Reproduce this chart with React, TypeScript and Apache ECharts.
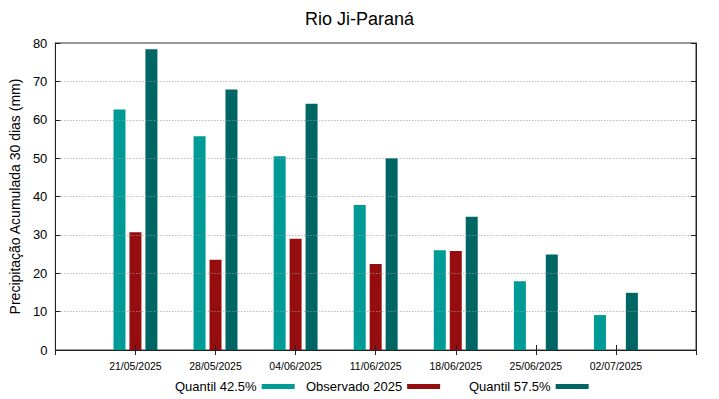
import React, { useEffect, useRef } from "react";
import * as echarts from "echarts";

const titleText = "Rio Ji-Paraná";
const yAxisName = "Precipitação Acumulada 30 dias (mm)";
const dates = ["21/05/2025", "28/05/2025", "04/06/2025", "11/06/2025", "18/06/2025", "25/06/2025", "02/07/2025"];
const seriesNames = ["Quantil 42.5%", "Observado 2025", "Quantil 57.5%"];
const quantil425 = [62.7, 55.7, 50.5, 37.8, 26.0, 17.9, 9.1];
const observado2025: (number | null)[] = [30.7, 23.5, 29.0, 22.4, 25.8, null, null];
const quantil575 = [78.4, 67.9, 64.2, 50.0, 34.7, 24.9, 14.9];
const yTicks = { min: 0, max: 80, interval: 10 };

const colors = ["#009a97", "#960d0f", "#006664"];
const FONT = "Liberation Sans, Arial, sans-serif";

export default function App() {
  const ref = useRef<HTMLDivElement>(null);
  useEffect(() => {
    if (!ref.current) return;
    const chart = echarts.init(ref.current, null, { renderer: "svg" });
    const cats = ["", ...dates, ""];
    const pad = (a: (number | null)[]) => [null, ...a, null];
    const seriesData = [quantil425, observado2025, quantil575];
    const legendLefts = [175, 306, 469];
    const frameAxisLine = { show: true, lineStyle: { color: "#222", width: 1 } };
    const frameTick = { show: true, inside: true, length: 5, lineStyle: { color: "#222" } };
    chart.setOption({
      animation: false,
      textStyle: { fontFamily: FONT },
      title: {
        text: titleText,
        left: "center",
        top: 5,
        textStyle: { fontSize: 18, fontWeight: "normal", color: "#000", fontFamily: FONT },
      },
      legend: seriesNames.map((n, i) => ({
        data: [n],
        left: legendLefts[i],
        top: 380,
        padding: 0,
        align: "right",
        icon: "rect",
        itemWidth: 33,
        itemHeight: 5,
        textStyle: { fontSize: 13, color: "#000", fontFamily: FONT },
        selectedMode: false,
      })),
      grid: {
        left: 52,
        right: 23,
        top: 43,
        bottom: 49,
        containLabel: false,
        show: true,
        borderColor: "#333",
        borderWidth: 1,
        backgroundColor: "transparent",
      },
      xAxis: [
        {
          type: "category",
          data: cats,
          boundaryGap: false,
          position: "bottom",
          z: 5,
          axisLine: frameAxisLine,
          axisTick: frameTick,
          axisLabel: { fontSize: 10.5, color: "#000", margin: 10, interval: 0 },
          splitLine: { show: false },
        },
        {
          type: "category",
          data: cats,
          boundaryGap: false,
          position: "top",
          z: 5,
          axisLine: frameAxisLine,
          axisTick: frameTick,
          axisLabel: { show: false },
          splitLine: { show: false },
        },
      ],
      yAxis: [
        {
          type: "value",
          min: yTicks.min,
          max: yTicks.max,
          interval: yTicks.interval,
          position: "left",
          z: 4,
          name: yAxisName,
          nameLocation: "middle",
          nameGap: 30,
          nameTextStyle: { fontSize: 14, color: "#000", fontFamily: FONT },
          axisLine: frameAxisLine,
          axisTick: frameTick,
          axisLabel: { fontSize: 13, color: "#000", margin: 8 },
          splitLine: {
            show: true,
            showMinLine: false,
            showMaxLine: false,
            lineStyle: { type: [1, 2], color: "#999", width: 1 },
          },
        },
        {
          type: "value",
          min: yTicks.min,
          max: yTicks.max,
          interval: yTicks.interval,
          position: "right",
          z: 5,
          axisLine: frameAxisLine,
          axisTick: frameTick,
          axisLabel: { show: false },
          splitLine: { show: false },
        },
      ],
      series: seriesNames.map((n, i) => ({
        name: n,
        type: "bar",
        data: pad(seriesData[i]),
        barWidth: 12,
        barGap: "33%",
        itemStyle: { color: colors[i] },
        xAxisIndex: 0,
        yAxisIndex: 0,
      })),
    });
    return () => chart.dispose();
  }, []);
  return <div ref={ref} style={{ width: 719, height: 399, position: "absolute", left: 0, top: 0 }} />;
}
